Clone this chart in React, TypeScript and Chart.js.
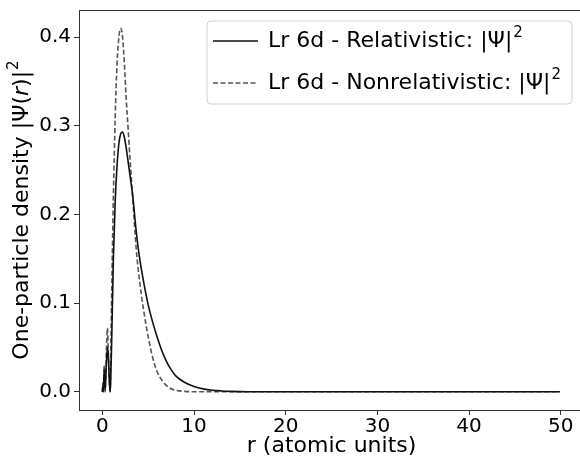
import React, { useEffect, useRef } from "react";
import { Chart, registerables } from "chart.js";

Chart.register(...registerables);

// r values (atomic units)
const rValues = [
  0, 0.05, 0.1, 0.2, 0.3, 0.45, 0.55, 0.65, 0.75, 0.85, 0.9, 1.0, 1.2, 1.4, 1.6, 1.8, 2.0, 2.2,
  2.4, 2.6, 2.8, 3.0, 3.3, 3.7, 4.0, 4.5, 5.0, 5.5, 6.0, 6.5, 7.0, 7.5, 8.0, 9.0, 10, 11, 12,
  13, 14, 16, 20, 25, 30, 35, 40, 45, 49.9,
];

// Relativistic |Psi|^2
const relValues = [
  0, 0.006, 0, 0.025, 0.002, 0.035, 0.05, 0.04, 0.015, 0.0, 0.01, 0.05, 0.15, 0.215, 0.255,
  0.28, 0.291, 0.293, 0.287, 0.275, 0.26, 0.245, 0.222, 0.18, 0.155, 0.124, 0.098, 0.078,
  0.061, 0.046, 0.034, 0.025, 0.018, 0.0105, 0.006, 0.0033, 0.0018, 0.001, 0.0005, 0.0001,
  0, 0, 0, 0, 0, 0, 0,
];

// Nonrelativistic |Psi|^2
const nonrelValues = [
  0, 0.01, 0, 0.03, 0, 0.05, 0.072, 0.045, 0.012, 0.0, 0.03, 0.1, 0.22, 0.31, 0.37, 0.4,
  0.41, 0.4, 0.37, 0.33, 0.298, 0.265, 0.22, 0.16, 0.13, 0.092, 0.062, 0.038, 0.022, 0.013,
  0.007, 0.0035, 0.0018, 0.0005, 0.0001, 0, 0, 0, 0, 0, 0, 0, 0, 0, 0, 0, 0,
];

const xTicks = [0, 10, 20, 30, 40, 50];
const yTicks = [0.0, 0.1, 0.2, 0.3, 0.4];

const relLabel = "Lr 6d - Relativistic: |Ψ|²";
const nonrelLabel = "Lr 6d - Nonrelativistic: |Ψ|²";
const xTitle = "r (atomic units)";
const yTitleParts = [
  { t: "One-particle density |Ψ(", style: "" },
  { t: "r", style: "italic " },
  { t: ")|", style: "" },
  { t: "2", style: "sup" },
];

const FONT = "'DejaVu Sans', sans-serif";

function drawWithSup(ctx: CanvasRenderingContext2D, text: string, x: number, y: number, size: number) {
  const parts = text.split("²");
  ctx.font = `${size}px ${FONT}`;
  ctx.textAlign = "left";
  ctx.textBaseline = "middle";
  ctx.fillText(parts[0], x, y);
  const w = ctx.measureText(parts[0]).width;
  if (parts.length > 1) {
    ctx.font = `${Math.round(size * 0.7)}px ${FONT}`;
    ctx.fillText("2", x + w + 1, y - size * 0.38);
  }
}

const decorPlugin = {
  id: "decor",
  afterDatasetsDraw(chart: any) {
    const ctx = chart.ctx as CanvasRenderingContext2D;
    const { left, right, top, bottom } = chart.chartArea;
    ctx.save();
    // top spine
    ctx.strokeStyle = "#333";
    ctx.lineWidth = 1;
    ctx.beginPath();
    ctx.moveTo(left, top + 0.5);
    ctx.lineTo(right, top + 0.5);
    ctx.stroke();

    // legend box
    const bx = 207, by = 21, bw = 365, bh = 83, r = 4;
    ctx.beginPath();
    ctx.moveTo(bx + r, by);
    ctx.lineTo(bx + bw - r, by);
    ctx.quadraticCurveTo(bx + bw, by, bx + bw, by + r);
    ctx.lineTo(bx + bw, by + bh - r);
    ctx.quadraticCurveTo(bx + bw, by + bh, bx + bw - r, by + bh);
    ctx.lineTo(bx + r, by + bh);
    ctx.quadraticCurveTo(bx, by + bh, bx, by + bh - r);
    ctx.lineTo(bx, by + r);
    ctx.quadraticCurveTo(bx, by, bx + r, by);
    ctx.closePath();
    ctx.fillStyle = "rgba(255,255,255,0.8)";
    ctx.fill();
    ctx.strokeStyle = "#d0d0d0";
    ctx.lineWidth = 1;
    ctx.stroke();

    const rows = [41, 83];
    chart.data.datasets.forEach((ds: any, i: number) => {
      const y = rows[i];
      ctx.strokeStyle = ds.borderColor;
      ctx.lineWidth = ds.borderWidth;
      ctx.setLineDash(ds.borderDash || []);
      ctx.beginPath();
      ctx.moveTo(213, y);
      ctx.lineTo(258, y);
      ctx.stroke();
      ctx.setLineDash([]);
      ctx.fillStyle = "#000";
      drawWithSup(ctx, ds.label, 268, y, 22);
    });

    // x title
    const xs = chart.scales.x;
    const cx = xs.getPixelForValue(25);
    ctx.fillStyle = "#000";
    ctx.font = `22px ${FONT}`;
    ctx.textAlign = "center";
    ctx.textBaseline = "middle";
    ctx.fillText(xTitle, cx, 446);

    // y title (rotated)
    ctx.translate(22, (top + bottom) / 2);
    ctx.rotate(-Math.PI / 2);
    ctx.textAlign = "left";
    let total = 0;
    const widths: number[] = [];
    yTitleParts.forEach((p) => {
      ctx.font = p.style === "sup" ? `15px ${FONT}` : `${p.style}22px ${FONT}`;
      const w = ctx.measureText(p.t).width + (p.style === "sup" ? 1 : 0);
      widths.push(w);
      total += w;
    });
    let x = -total / 2;
    yTitleParts.forEach((p, i) => {
      ctx.font = p.style === "sup" ? `15px ${FONT}` : `${p.style}22px ${FONT}`;
      const yy = p.style === "sup" ? -8 : 0;
      ctx.fillText(p.t, x + (p.style === "sup" ? 1 : 0), yy);
      x += widths[i];
    });
    ctx.restore();
  },
};

export default function App() {
  const ref = useRef<HTMLCanvasElement>(null);
  useEffect(() => {
    if (!ref.current) return;
    const chart = new Chart(ref.current, {
      type: "line",
      data: {
        datasets: [
          {
            label: relLabel,
            data: rValues.map((r, i) => ({ x: r, y: relValues[i] })),
            borderColor: "#111111",
            borderWidth: 1.6,
            pointRadius: 0,
            cubicInterpolationMode: "monotone",
            fill: false,
          },
          {
            label: nonrelLabel,
            data: rValues.map((r, i) => ({ x: r, y: nonrelValues[i] })),
            borderColor: "#555555",
            borderWidth: 1.6,
            borderDash: [5, 2.5],
            pointRadius: 0,
            cubicInterpolationMode: "monotone",
            fill: false,
          },
        ],
      },
      options: {
        animation: false,
        responsive: false,
        layout: { padding: { top: 10, left: 0, right: 0, bottom: 0 } },
        plugins: { legend: { display: false }, tooltip: { enabled: false } },
        scales: {
          x: {
            type: "linear",
            min: -2.55,
            max: 52.1,
            afterBuildTicks: (s: any) => {
              s.ticks = xTicks.map((v) => ({ value: v }));
            },
            afterFit: (s: any) => {
              s.height = 51;
              s.paddingLeft = 0;
              s.paddingRight = 0;
            },
            grid: { drawOnChartArea: false, drawTicks: true, tickLength: 5, tickColor: "#333" },
            border: { display: true, color: "#333", width: 1 },
            ticks: {
              color: "#000",
              font: { family: FONT, size: 20 },
              padding: 0,
              maxRotation: 0,
              callback: (v: any) => String(v),
            },
          },
          y: {
            type: "linear",
            min: -0.0205,
            max: 0.4305,
            afterBuildTicks: (s: any) => {
              s.ticks = yTicks.map((v) => ({ value: v }));
            },
            afterFit: (s: any) => {
              s.width = 79;
              s.paddingTop = 0;
              s.paddingBottom = 0;
            },
            grid: { drawOnChartArea: false, drawTicks: true, tickLength: 5, tickColor: "#333" },
            border: { display: true, color: "#333", width: 1 },
            ticks: {
              color: "#000",
              font: { family: FONT, size: 20 },
              padding: 3,
              callback: (v: any) => Number(v).toFixed(1),
            },
          },
        },
      },
      plugins: [decorPlugin],
    } as any);
    return () => chart.destroy();
  }, []);
  return (
    <div style={{ position: "fixed", left: 0, top: 0, width: 580, height: 461, background: "#fff" }}>
      <canvas ref={ref} width={580} height={461} style={{ display: "block" }} />
    </div>
  );
}
